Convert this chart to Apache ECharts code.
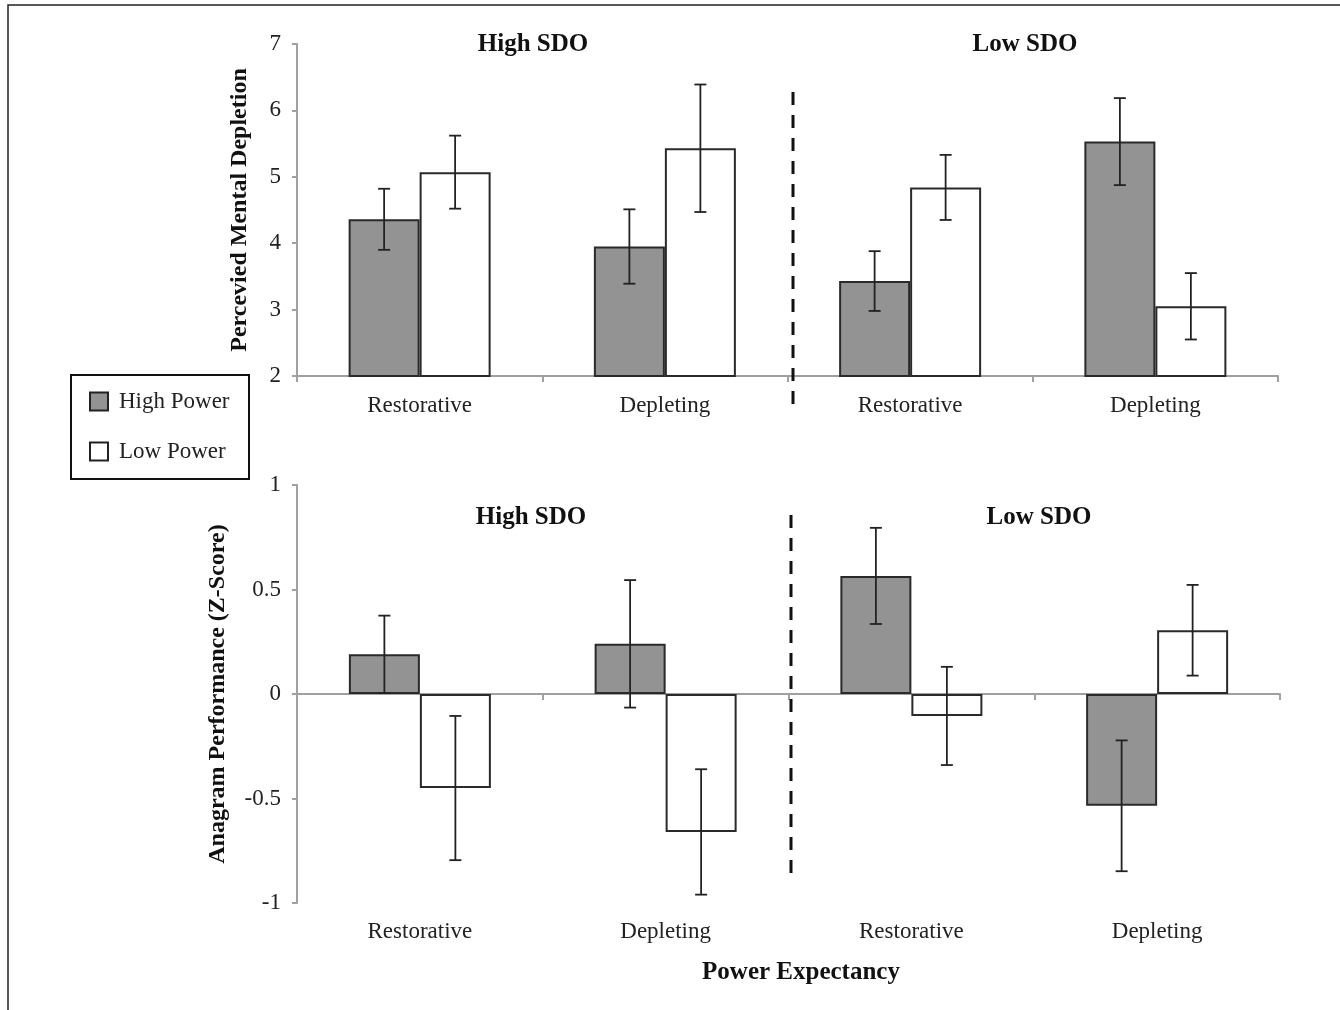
<!DOCTYPE html>
<html>
<head>
<meta charset="utf-8">
<script src="https://cdn.jsdelivr.net/npm/echarts@6/dist/echarts.min.js"></script>
<style>
  html, body { margin: 0; padding: 0; background: #fff; }
  #chart { width: 1340px; height: 1010px; }
</style>
</head>
<body>
<div id="chart"></div>
<script>
// data
const categories = ['Restorative', 'Depleting', 'Restorative', 'Depleting']
const seriesNames = ['High Power', 'Low Power']

const depletionHigh = [4.36, 3.95, 3.43, 5.53]
const depletionHighErr = [0.46, 0.56, 0.45, 0.655]
const depletionLow = [5.07, 5.43, 4.84, 3.05]
const depletionLowErr = [0.55, 0.96, 0.49, 0.50]

const anagramHigh = [0.19, 0.24, 0.565, -0.535]
const anagramHighErr = [0.185, 0.305, 0.23, 0.313]
const anagramLow = [-0.45, -0.66, -0.105, 0.305]
const anagramLowErr = [0.345, 0.30, 0.235, 0.217]

const FONT = '"Liberation Serif", "Times New Roman", serif'
const BAR_W = 71
const GRAY = '#939393'
const EDGE = '#2a2a2a'
const AXIS_GRAY = '#a0a0a0'

const chart = echarts.init(document.getElementById('chart'))

const errData = (vals, errs) => vals.map((v, i) => [i, v - errs[i], v + errs[i]])

// error bar renderer, side -1 = left bar of pair, +1 = right bar
const errorRenderer = side => (params, api) => {
  const lo = api.coord([api.value(0), api.value(1)])
  const hi = api.coord([api.value(0), api.value(2)])
  const cx = lo[0] + side * BAR_W / 2
  const cap = 6
  const style = { stroke: '#222', lineWidth: 1.8 }
  return {
    type: 'group',
    children: [
      { type: 'line', shape: { x1: cx, y1: hi[1], x2: cx, y2: lo[1] }, style },
      { type: 'line', shape: { x1: cx - cap, y1: hi[1], x2: cx + cap, y2: hi[1] }, style },
      { type: 'line', shape: { x1: cx - cap, y1: lo[1], x2: cx + cap, y2: lo[1] }, style }
    ]
  }
}

const tickLabel = { color: '#222', fontSize: 23, fontFamily: FONT }

const valueAxis = (gridIndex, min, max, interval, name, nameGap) => ({
  type: 'value',
  gridIndex,
  min, max, interval,
  name,
  nameLocation: 'middle',
  nameGap,
  nameTextStyle: { color: '#111', fontSize: 24, fontWeight: 'bold', fontFamily: FONT },
  axisLine: { show: true, lineStyle: { color: AXIS_GRAY, width: 2 } },
  axisTick: { show: true, length: 5, lineStyle: { color: AXIS_GRAY, width: 2 } },
  axisLabel: { ...tickLabel, margin: 16 },
  splitLine: { show: false }
})

const barSeries = (name, data, xi, yi, fill) => ({
  name,
  type: 'bar',
  xAxisIndex: xi,
  yAxisIndex: yi,
  data,
  barWidth: BAR_W,
  barGap: '0%',
  itemStyle: { color: fill, borderColor: EDGE, borderWidth: 2 },
  emphasis: { disabled: true }
})

const errSeries = (data, xi, yi, side) => ({
  type: 'custom',
  xAxisIndex: xi,
  yAxisIndex: yi,
  data,
  z: 5,
  renderItem: errorRenderer(side),
  silent: true
})

const dashed = (x, y1, y2) => ({
  type: 'line',
  shape: { x1: x, y1, x2: x, y2 },
  style: { stroke: '#111', lineWidth: 3, lineDash: [13, 10] },
  z: 10
})

const label = (text, x, y, size) => ({
  type: 'text',
  x, y,
  style: {
    text,
    font: 'bold ' + size + 'px ' + FONT,
    fill: '#111',
    align: 'center',
    verticalAlign: 'middle'
  }
})

const option = {
  backgroundColor: '#fff',
  animation: false,
  grid: [
    { left: 297, top: 44, width: 981, height: 332 },
    { left: 297, top: 485, width: 983, height: 418 }
  ],
  legend: {
    data: seriesNames,
    orient: 'vertical',
    left: 84,
    top: 385,
    itemWidth: 18,
    itemHeight: 18,
    itemGap: 27,
    icon: 'rect',
    itemStyle: { borderColor: '#222', borderWidth: 2 },
    textStyle: { color: '#222', fontSize: 23, fontFamily: FONT, padding: [0, 0, 0, 6] },
    selectedMode: false
  },
  xAxis: [
    {
      type: 'category',
      gridIndex: 0,
      position: 'bottom',
      data: categories,
      axisLine: { lineStyle: { color: AXIS_GRAY, width: 2 } },
      axisTick: { show: true, length: 6, lineStyle: { color: AXIS_GRAY, width: 2 } },
      axisLabel: { ...tickLabel, margin: 18 }
    },
    {
      type: 'category',
      gridIndex: 1,
      position: 'bottom',
      data: categories,
      axisLine: { onZero: true, lineStyle: { color: AXIS_GRAY, width: 2 } },
      axisTick: { show: true, length: 6, lineStyle: { color: AXIS_GRAY, width: 2 } },
      axisLabel: { show: false }
    },
    {
      // label-only axis at the bottom of the lower panel
      type: 'category',
      gridIndex: 1,
      position: 'bottom',
      data: categories,
      axisLine: { show: false, onZero: false },
      axisTick: { show: false },
      axisLabel: { ...tickLabel, margin: 17 }
    }
  ],
  yAxis: [
    valueAxis(0, 2, 7, 1, 'Percevied Mental Depletion', 45),
    valueAxis(1, -1, 1, 0.5, 'Anagram Performance (Z-Score)', 67)
  ],
  series: [
    barSeries(seriesNames[0], depletionHigh, 0, 0, GRAY),
    barSeries(seriesNames[1], depletionLow, 0, 0, '#fff'),
    barSeries(seriesNames[0], anagramHigh, 1, 1, GRAY),
    barSeries(seriesNames[1], anagramLow, 1, 1, '#fff'),
    errSeries(errData(depletionHigh, depletionHighErr), 0, 0, -1),
    errSeries(errData(depletionLow, depletionLowErr), 0, 0, 1),
    errSeries(errData(anagramHigh, anagramHighErr), 1, 1, -1),
    errSeries(errData(anagramLow, anagramLowErr), 1, 1, 1)
  ],
  graphic: [
    // page frame
    {
      type: 'polyline',
      shape: { points: [[8, 1010], [8, 5], [1340, 5]] },
      style: { stroke: '#222', lineWidth: 1.5, fill: null }
    },
    // legend box
    {
      type: 'rect',
      shape: { x: 71, y: 375, width: 178, height: 104 },
      style: { stroke: '#111', lineWidth: 2, fill: '#fff' },
      z: -1
    },
    dashed(793, 92, 410),
    dashed(791, 515, 883),
    label('High SDO', 533, 45, 25),
    label('Low SDO', 1025, 45, 25),
    label('High SDO', 531, 518, 25),
    label('Low SDO', 1039, 518, 25),
    label('Power Expectancy', 801, 973, 25)
  ]
}

chart.setOption(option)
window.addEventListener('resize', () => chart.resize())
</script>
</body>
</html>
